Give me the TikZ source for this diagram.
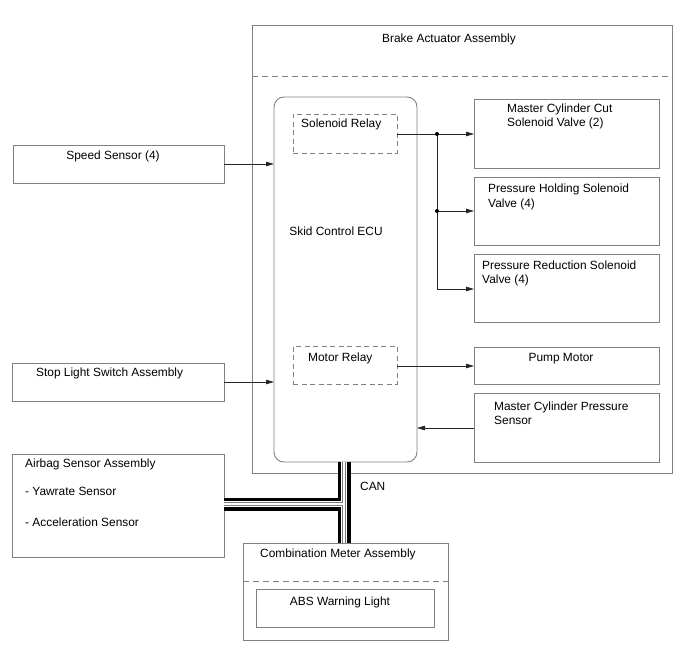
\documentclass[tikz,border=0pt]{standalone}
\usepackage{fontspec}
\setmainfont{Liberation Sans}
\usetikzlibrary{arrows.meta}
\definecolor{boxgray}{RGB}{128,128,128}
\definecolor{busgray}{RGB}{120,120,120}
\begin{document}
\begin{tikzpicture}[x=1pt,y=-1pt,
  font=\fontsize{11.9}{14}\selectfont,
  box/.style={draw=boxgray, line width=0.9pt, inner sep=0pt, outer sep=0pt, anchor=north west},
  dbox/.style={box, dash pattern=on 5pt off 3.5pt},
  dline/.style={draw=boxgray, line width=0.9pt, dash pattern=on 6pt off 4pt},
  lbl/.style={inner sep=0pt, anchor=base west, align=left},
  clbl/.style={inner sep=0pt, anchor=base, align=center},
  wire/.style={draw=black!85, line width=0.8pt},
  arr/.style={wire, -{Triangle[length=8pt,width=4.5pt]}},
  jdot/.style={circle, fill=black, inner sep=0pt, minimum size=4pt}]
\useasboundingbox (0,0) rectangle (688,658);

% boxes
\node[box, minimum width=420pt, minimum height=448pt] (bact) at (252,25) {};
\draw[dline] (bact.west |- 0,76) -- (bact.east |- 0,76);
\node[box, rounded corners=10pt, minimum width=143pt, minimum height=365pt] (ecu) at (274,97) {};
\node[dbox, minimum width=104pt, minimum height=39pt] (srelay) at (293,114) {};
\node[dbox, minimum width=104pt, minimum height=38pt] (mrelay) at (293,346) {};
\node[box, minimum width=185pt, minimum height=69pt] (mcc) at (474,99) {};
\node[box, minimum width=185pt, minimum height=68pt] (ph) at (474,177) {};
\node[box, minimum width=185pt, minimum height=68pt] (pr) at (474,254) {};
\node[box, minimum width=185pt, minimum height=37pt] (pump) at (474,347) {};
\node[box, minimum width=185pt, minimum height=69pt] (mcps) at (474,393) {};
\node[box, minimum width=211pt, minimum height=38pt] (speed) at (13,145) {};
\node[box, minimum width=212pt, minimum height=38pt] (stop) at (12,363) {};
\node[box, minimum width=212pt, minimum height=103pt] (airbag) at (12,454) {};
\node[box, minimum width=205pt, minimum height=97pt] (meter) at (243,543) {};
\draw[dline] (meter.west |- 0,581) -- (meter.east |- 0,581);
\node[box, minimum width=178pt, minimum height=38pt] (abs) at (256,589) {};

% texts
\node[clbl] (tbact) at (449,43) {Brake Actuator Assembly};
\node[clbl] (tecu) at (336,235) {Skid Control ECU};
\node[lbl] (tsrelay) at (301,128) {Solenoid Relay};
\node[lbl] (tmrelay) at (308,361) {Motor Relay};
\node[lbl] (tmcc) at (507,127) {Master Cylinder Cut\\Solenoid Valve (2)};
\node[lbl] (tph) at (488,207) {Pressure Holding Solenoid\\Valve (4)};
\node[lbl] (tpr) at (482,283) {Pressure Reduction Solenoid\\Valve (4)};
\node[clbl] (tpump) at (561,361) {Pump Motor};
\node[lbl] (tmcps) at (494,424) {Master Cylinder Pressure\\Sensor};
\node[clbl] (tspeed) at (113,160) {Speed Sensor (4)};
\node[lbl] (tstop) at (36,376) {Stop Light Switch Assembly};
\node[lbl] (tair1) at (25,467) {Airbag Sensor Assembly};
\node[lbl] (tair2) at (25,495) {- Yawrate Sensor};
\node[lbl] (tair3) at (25,526) {- Acceleration Sensor};
\node[lbl] (tmeter) at (260,557) {Combination Meter Assembly};
\node[clbl] (tabs) at (340,605) {ABS Warning Light};
\node[lbl] (tcan) at (360,490) {CAN};

% connectors
\draw[arr] (speed.east |- 0,164) -- (ecu.west |- 0,164);
\draw[arr] (stop.east |- 0,382) -- (ecu.west |- 0,382);
\coordinate (j1) at (437,134);
\coordinate (j2) at (437,211);
\coordinate (j3) at (437,289);
\draw[arr] (srelay.east |- j1) -- (mcc.west |- j1);
\draw[wire] (j1) -- (j3);
\draw[arr] (j2) -- (ph.west |- j2);
\draw[arr] (j3) -- (pr.west |- j3);
\node[jdot] (d1) at (j1) {};
\node[jdot] (d2) at (j2) {};
\draw[arr] (mrelay.east |- 0,366) -- (pump.west |- 0,366);
\draw[arr] (mcps.west |- 0,428) -- (ecu.east |- 0,428);

% CAN bus
\coordinate (bt) at (344,462);
\coordinate (bb) at (344,543);
\coordinate (bj) at (344,504);
\coordinate (ba) at (airbag.east |- bj);
\foreach \c/\w in {black/13pt, white/6pt, busgray/3.6pt, white/1.9pt}
  \draw[\c, line width=\w] (bt) -- (bb) (ba) -- (bj);
\end{tikzpicture}
\end{document}
